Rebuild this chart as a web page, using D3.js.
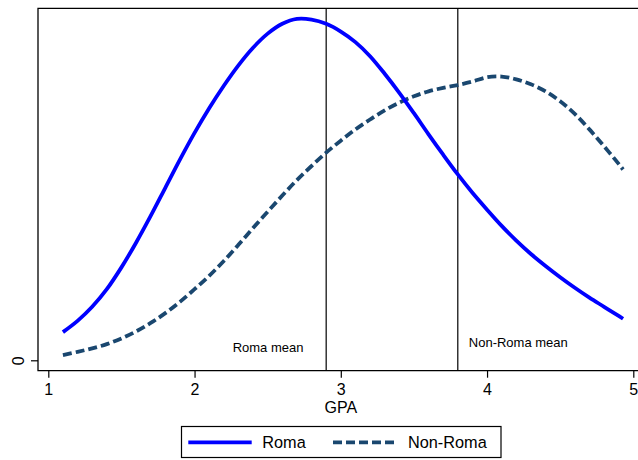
<!DOCTYPE html>
<html>
<head>
<meta charset="utf-8">
<script src="https://cdn.jsdelivr.net/npm/d3@7"></script>
<style>
  body { margin: 0; background: #fff; }
  svg { display: block; font-family: Arial, "Liberation Sans", Helvetica, sans-serif; }
</style>
</head>
<body>
<div id="chart"></div>
<script>
// kernel density of GPA
var gpa = [1.1, 1.2, 1.3, 1.4, 1.5, 1.6, 1.7, 1.8, 1.9, 2.0, 2.1, 2.2, 2.3, 2.4, 2.5, 2.6, 2.7, 2.8, 2.9, 3.0,
  3.1, 3.2, 3.3, 3.4, 3.5, 3.6, 3.7, 3.8, 3.9, 4.0, 4.1, 4.2, 4.3, 4.4, 4.5, 4.6, 4.7, 4.8, 4.9, 4.93];
var roma = [0.040, 0.056, 0.076, 0.101, 0.132, 0.167, 0.205, 0.245, 0.285, 0.323, 0.358, 0.390, 0.419, 0.444,
  0.464, 0.478, 0.485, 0.484, 0.478, 0.467, 0.452, 0.432, 0.407, 0.380, 0.351, 0.321, 0.292, 0.264, 0.238,
  0.214, 0.191, 0.170, 0.151, 0.134, 0.118, 0.103, 0.089, 0.076, 0.063, 0.059];
var nonRoma = [0.0075, 0.012, 0.017, 0.023, 0.031, 0.041, 0.053, 0.067, 0.083, 0.101, 0.120, 0.141, 0.164,
  0.188, 0.211, 0.234, 0.256, 0.276, 0.295, 0.312, 0.328, 0.342, 0.355, 0.366, 0.375, 0.382, 0.387, 0.391,
  0.396, 0.402, 0.403, 0.399, 0.392, 0.382, 0.368, 0.350, 0.328, 0.304, 0.279, 0.271];
var xTicks = [1, 2, 3, 4, 5];
var yTicks = [0];
var meanNames = ['Roma mean', 'Non-Roma mean'];
var meanValues = [2.9, 3.8];
var seriesNames = ['Roma', 'Non-Roma'];

(function(d3) {
  'use strict';
  var width = 638;
  var height = 460;
  var left = 38, top = 8.3, bottom = 370.7;

  var svg = d3.select('#chart')
    .append('svg')
    .attr('width', width)
    .attr('height', height);

  var x = d3.scaleLinear().domain([1, 5]).range([48.3, 633.3]);
  var y = d3.scaleLinear().domain([0, 0.5]).range([360.3, 8.3]);

  // mean lines
  meanValues.forEach(function(m) {
    svg.append('line')
      .attr('x1', x(m)).attr('x2', x(m))
      .attr('y1', top).attr('y2', bottom)
      .attr('stroke', '#000')
      .attr('stroke-width', 1.2);
  });

  // labels for the mean lines
  var labelPos = [[x(meanValues[0]) - 93.5, 351.5], [x(meanValues[1]) + 11, 346.5]];
  meanNames.forEach(function(t, i) {
    svg.append('text')
      .attr('x', labelPos[i][0])
      .attr('y', labelPos[i][1])
      .attr('font-size', 13)
      .attr('fill', '#000')
      .text(t);
  });

  var line = d3.line()
    .x(function(d) { return x(d[0]); })
    .y(function(d) { return y(d[1]); })
    .curve(d3.curveCatmullRom);

  svg.append('path')
    .datum(d3.zip(gpa, nonRoma))
    .attr('d', line)
    .attr('fill', 'none')
    .attr('stroke', '#1a476f')
    .attr('stroke-width', 3.8)
    .attr('stroke-dasharray', '9,4');

  svg.append('path')
    .datum(d3.zip(gpa, roma))
    .attr('d', line)
    .attr('fill', 'none')
    .attr('stroke', '#0000ff')
    .attr('stroke-width', 3.8);

  // frame: left, bottom, top
  svg.append('path')
    .attr('d', 'M' + (width + 5) + ',' + top + 'H' + left + 'V' + bottom + 'H' + (width + 5))
    .attr('fill', 'none')
    .attr('stroke', '#000')
    .attr('stroke-width', 1.3);

  // x axis
  var xAxis = svg.append('g')
    .attr('transform', 'translate(0,' + bottom + ')')
    .call(d3.axisBottom(x).tickValues(xTicks).tickSize(7).tickPadding(6).tickFormat(d3.format('d')));
  xAxis.select('.domain').remove();
  xAxis.selectAll('line').attr('stroke', '#000').attr('stroke-width', 1.2);
  xAxis.selectAll('text')
    .attr('font-size', 16)
    .attr('font-family', 'Arial, "Liberation Sans", sans-serif')
    .attr('fill', '#000');

  svg.append('text')
    .attr('x', x(3))
    .attr('y', 413.3)
    .attr('text-anchor', 'middle')
    .attr('font-size', 16)
    .text('GPA');

  // y axis, label turned on its side
  var yAxis = svg.append('g')
    .attr('transform', 'translate(' + left + ',0)')
    .call(d3.axisLeft(y).tickValues(yTicks).tickSize(7).tickFormat(d3.format('d')));
  yAxis.select('.domain').remove();
  yAxis.selectAll('line').attr('stroke', '#000').attr('stroke-width', 1.2);
  yAxis.selectAll('text')
    .attr('font-size', 16)
    .attr('font-family', 'Arial, "Liberation Sans", sans-serif')
    .attr('fill', '#000')
    .attr('text-anchor', 'middle')
    .attr('dy', null)
    .attr('x', 0)
    .attr('y', 0)
    .attr('transform', 'translate(-14,0) rotate(-90)');

  // legend
  var legend = svg.append('g');
  legend.append('rect')
    .attr('x', 181.5).attr('y', 426.5)
    .attr('width', 319.5).attr('height', 31)
    .attr('fill', '#fff')
    .attr('stroke', '#000')
    .attr('stroke-width', 1.2);
  var keyX = [[188.3, 251.7, 262.3], [333, 397, 408]];
  var keyStyle = [['#0000ff', null], ['#1a476f', '9,4']];
  seriesNames.forEach(function(s, i) {
    legend.append('line')
      .attr('x1', keyX[i][0]).attr('x2', keyX[i][1])
      .attr('y1', 442.3).attr('y2', 442.3)
      .attr('stroke', keyStyle[i][0])
      .attr('stroke-width', 3.8)
      .attr('stroke-dasharray', keyStyle[i][1]);
    legend.append('text')
      .attr('x', keyX[i][2])
      .attr('y', 448.3)
      .attr('font-size', 16.3)
      .text(s);
  });
})(window.d3);
</script>
</body>
</html>
